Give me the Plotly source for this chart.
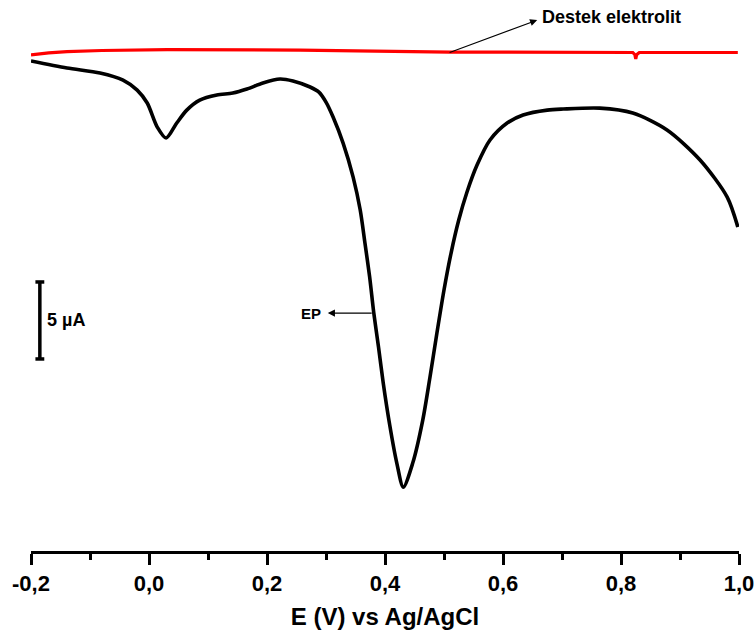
import plotly.graph_objects as go

# Potential (V vs Ag/AgCl) and current (µA) of the sample voltammogram
sample_potential = [-0.200, -0.139, -0.083, -0.044, -0.020, -0.003, 0.014, 0.029, 0.047, 0.064,
                    0.086, 0.115, 0.142, 0.166, 0.193, 0.222, 0.244, 0.273, 0.288, 0.300,
                    0.312, 0.329, 0.346, 0.358, 0.366, 0.374, 0.381, 0.389, 0.397, 0.408,
                    0.420, 0.431, 0.447, 0.464, 0.476, 0.488, 0.500, 0.512, 0.525, 0.539,
                    0.556, 0.578, 0.607, 0.634, 0.675, 0.702, 0.764, 0.820, 0.878, 0.934,
                    0.980, 0.998]
sample_current = [-0.71, -1.17, -1.49, -1.95, -2.60, -3.44, -5.00, -5.71, -4.74, -3.90,
                  -3.25, -2.92, -2.79, -2.53, -2.14, -1.88, -2.01, -2.40, -2.73, -3.38,
                  -4.35, -6.04, -8.25, -10.39, -12.53, -14.74, -17.08, -19.29, -21.62, -24.35,
                  -26.82, -28.38, -26.82, -24.03, -21.30, -18.38, -15.58, -13.18, -11.04, -9.22,
                  -7.47, -5.84, -4.74, -4.22, -3.90, -3.83, -3.77, -4.09, -5.19, -7.14,
                  -9.55, -11.49]

# Supporting electrolyte (blank) scan
blank_potential = [-0.200, -0.170, -0.139, -0.080, 0.031, 0.256, 0.510, 0.820, 0.8235, 0.825, 0.8265, 0.831, 0.998]
blank_current = [-0.32, -0.18, -0.10, -0.03, 0.03, 0.00, -0.13, -0.16, -0.30, -0.58, -0.30, -0.16, -0.16]

tick_values = [-0.2, 0.0, 0.2, 0.4, 0.6, 0.8, 1.0]
tick_labels = ["-0,2", "0,0", "0,2", "0,4", "0,6", "0,8", "1,0"]

scale_bar_ua = 5
scale_bar_x = -0.185
scale_bar_top = -15.06

FONT = "Liberation Sans, Arial, sans-serif"

fig = go.Figure()

fig.add_trace(go.Scatter(
    x=blank_potential, y=blank_current, mode="lines",
    line=dict(color="#ff0000", width=3.2),
    hoverinfo="skip", showlegend=False))

fig.add_trace(go.Scatter(
    x=sample_potential, y=sample_current, mode="lines",
    line=dict(color="#000000", width=3.6, shape="spline", smoothing=0.8),
    hoverinfo="skip", showlegend=False))

# Current scale bar with end caps
cap = 0.0075
fig.add_trace(go.Scatter(
    x=[scale_bar_x, scale_bar_x, None,
       scale_bar_x - cap, scale_bar_x + cap, None,
       scale_bar_x - cap, scale_bar_x + cap],
    y=[scale_bar_top, scale_bar_top - scale_bar_ua, None,
       scale_bar_top, scale_bar_top, None,
       scale_bar_top - scale_bar_ua, scale_bar_top - scale_bar_ua],
    mode="lines", line=dict(color="#000000", width=3.5),
    hoverinfo="skip", showlegend=False))

annotations = [
    dict(x=-0.176, y=scale_bar_top - scale_bar_ua / 2, text=f"{scale_bar_ua} µA",
         showarrow=False, xanchor="left", yanchor="middle",
         font=dict(family=FONT, size=18, color="#000000", weight="bold")),
    dict(x=0.663, y=2.14, text="Destek elektrolit", showarrow=False,
         xanchor="left", yanchor="middle",
         font=dict(family=FONT, size=18, color="#000000", weight="bold")),
    dict(x=0.658, y=1.95, ax=0.507, ay=-0.19, axref="x", ayref="y",
         xref="x", yref="y", text="", showarrow=True,
         arrowhead=2, arrowsize=1.3, arrowwidth=1.1, arrowcolor="#000000"),
    dict(x=0.295, y=-17.08, text="EP", showarrow=False,
         xanchor="right", yanchor="middle",
         font=dict(family=FONT, size=15, color="#000000", weight="bold")),
    dict(x=0.303, y=-17.08, ax=0.380, ay=-17.08, axref="x", ayref="y",
         xref="x", yref="y", text="", showarrow=True,
         arrowhead=2, arrowsize=1.3, arrowwidth=1.1, arrowcolor="#000000"),
]

fig.update_layout(
    width=755, height=639,
    margin=dict(l=31, r=16, t=0, b=88),
    paper_bgcolor="white", plot_bgcolor="white",
    annotations=annotations,
    xaxis=dict(
        range=[-0.2, 1.0], showgrid=False, zeroline=False,
        showline=True, linecolor="#000000", linewidth=2.5,
        ticks="outside", ticklen=11, tickwidth=2.5, tickcolor="#000000",
        tickvals=tick_values, ticktext=tick_labels,
        tickfont=dict(family=FONT, size=22, color="#000000", weight="bold"),
        minor=dict(ticks="outside", ticklen=6, tickwidth=2.5, tickcolor="#000000", dtick=0.1,
                   tick0=-0.2, showgrid=False),
        title=dict(text="E (V) vs Ag/AgCl", standoff=14,
                   font=dict(family=FONT, size=24, color="#000000", weight="bold")),
    ),
    yaxis=dict(range=[-32.53, 3.25], visible=False),
)

fig.write_html("out.html")
